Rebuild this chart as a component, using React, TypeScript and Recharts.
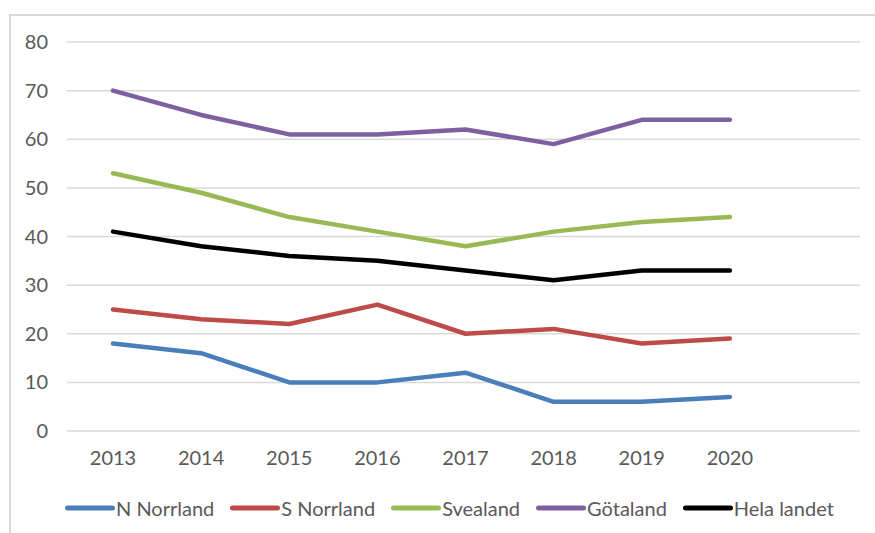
import React from "react";
import { LineChart, Line, XAxis, YAxis, CartesianGrid, Legend } from "recharts";

const years = ["2013", "2014", "2015", "2016", "2017", "2018", "2019", "2020", ""];
const nNorrland = [18, 16, 10, 10, 12, 6, 6, 7];
const sNorrland = [25, 23, 22, 26, 20, 21, 18, 19];
const svealand = [53, 49, 44, 41, 38, 41, 43, 44];
const gotaland = [70, 65, 61, 61, 62, 59, 64, 64];
const helaLandet = [41, 38, 36, 35, 33, 31, 33, 33];
const yTicks = [0, 10, 20, 30, 40, 50, 60, 70, 80];

const series = [
  { key: "nNorrland", name: "N Norrland", values: nNorrland, color: "#4A7EBB" },
  { key: "sNorrland", name: "S Norrland", values: sNorrland, color: "#BE4B48" },
  { key: "svealand", name: "Svealand", values: svealand, color: "#98B954" },
  { key: "gotaland", name: "Götaland", values: gotaland, color: "#7D60A0" },
  { key: "helaLandet", name: "Hela landet", values: helaLandet, color: "#000000" },
];

const data = years.map((y, i) => {
  const row: Record<string, any> = { year: y };
  series.forEach((s) => {
    row[s.key] = i < s.values.length ? s.values[i] : null;
  });
  return row;
});

const FONT = "Lato, 'Open Sans', sans-serif";
const TEXT = "#595959";

const LegendContent = () => (
  <div
    style={{
      display: "flex",
      alignItems: "center",
      paddingLeft: 63,
      fontFamily: FONT,
      fontSize: 20,
      color: TEXT,
      height: 40,
    }}
  >
    {series.map((s) => (
      <div key={s.key} style={{ display: "flex", alignItems: "center", marginRight: 14 }}>
        <svg width={52} height={10} style={{ display: "block" }}>
          <line x1={4.5} y1={5} x2={49.5} y2={5} stroke={s.color} strokeWidth={5} strokeLinecap="round" />
        </svg>
        <span style={{ marginLeft: 1 }}>{s.name}</span>
      </div>
    ))}
  </div>
);

export default function App() {
  return (
    <div style={{ position: "absolute", left: 0, top: 0, width: 875, height: 533, background: "#fff", overflow: "hidden" }}>
      <div
        style={{
          position: "absolute",
          left: 9,
          top: 14,
          width: 900,
          height: 600,
          borderLeft: "2px solid #dadada",
          borderTop: "2px solid #dadada",
        }}
      />
      <LineChart
        width={875}
        height={533}
        data={data}
        margin={{ top: 42, right: 15, bottom: 5, left: 0 }}
        style={{ position: "absolute", left: 0, top: 0 }}
      >
        <CartesianGrid vertical={false} stroke="#d9d9d9" strokeWidth={1.5} />
        <XAxis
          dataKey="year"
          axisLine={false}
          tickLine={false}
          tickSize={0}
          tickMargin={20}
          height={57}
          interval={0}
          padding={{ left: 46, right: 42 }}
          tick={{ fill: TEXT, fontSize: 20, fontFamily: FONT }}
        />
        <YAxis
          domain={[0, 80]}
          ticks={yTicks}
          axisLine={false}
          tickLine={false}
          tickSize={0}
          tickMargin={19}
          width={67}
          tick={{ fill: TEXT, fontSize: 20, fontFamily: FONT }}
        />
        <Legend
          verticalAlign="bottom"
          height={40}
          wrapperStyle={{ left: 0, width: 875 }}
          content={() => <LegendContent />}
        />
        {series.map((s) => (
          <Line
            key={s.key}
            dataKey={s.key}
            name={s.name}
            stroke={s.color}
            strokeWidth={4.5}
            strokeLinecap="round"
            strokeLinejoin="round"
            dot={false}
            activeDot={false}
            type="linear"
            isAnimationActive={false}
          />
        ))}
      </LineChart>
    </div>
  );
}
